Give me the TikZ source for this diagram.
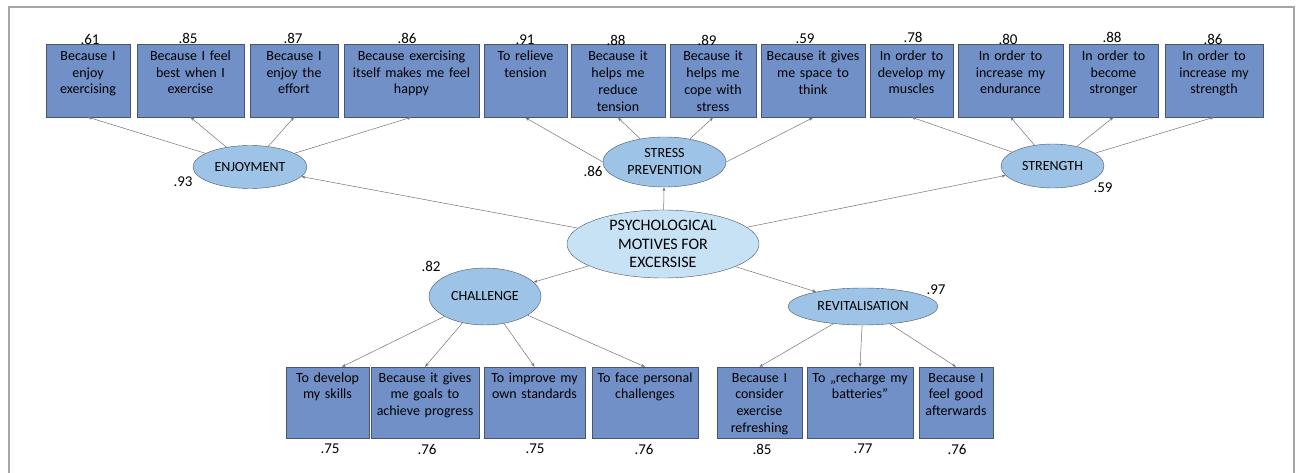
\documentclass[tikz,border=0pt]{standalone}
\usepackage{fontspec}
\setmainfont{Carlito}
\usetikzlibrary{shapes.geometric,arrows.meta}

\definecolor{itemblue}{RGB}{114,144,200}
\definecolor{factorblue}{RGB}{157,195,230}
\definecolor{motiveblue}{RGB}{200,226,245}
\definecolor{outline}{RGB}{75,85,105}
\definecolor{framegray}{RGB}{165,165,165}

\tikzset{
    item/.style={rectangle, draw=outline, fill=itemblue, inner sep=3pt,
        text width=#1pt-6pt, align=center, text height=13.5pt, text depth=53.5pt,
        font=\fontsize{14}{16.7}\selectfont},
    lowitem/.style={item=#1, text height=12pt, text depth=53pt},
    factor/.style={ellipse, draw=outline, fill=factorblue, inner sep=0pt, align=center,
        font=\fontsize{14}{17}\selectfont},
    loading/.style={inner sep=0pt, font=\fontsize{15}{16}\selectfont},
    link/.style={->, draw=black!55, line width=0.5pt},
}

\begin{document}
\begin{tikzpicture}[x=1pt, y=-1pt, >={Stealth[length=4pt,width=3pt]}]
        \useasboundingbox (0,0) rectangle (1302,473);
        \draw[framegray, line width=1.3pt] (9,473) -- (9,7) -- (1294,7) -- (1294,473);

        %%% top row
        \node[item=84]  (b1)  at (88,80.5)    {Because I\\ enjoy\\ exercising};
        \node[item=107] (b2)  at (190.5,80.5) {Because I feel\\ best when I\\ exercise};
        \node[item=88]  (b3)  at (294,80.5)   {Because I\\ enjoy the\\ effort};
        \node[item=135] (b4)  at (411.5,80.5) {Because exercising\\ itself makes me feel\\ happy};
        \node[item=83]  (b5)  at (525.5,81)   {To relieve\\ tension};
        \node[item=94]  (b6)  at (618,81)     {Because it\\ helps me\\ reduce\\ tension};
        \node[item=86]  (b7)  at (713,81)     {Because it\\ helps me\\ cope with\\ stress};
        \node[item=104] (b8)  at (813,81)     {Because it gives\\ me space to\\ think};
        \node[item=83]  (b9)  at (911.5,80.5) {In order to\\ develop my\\ muscles};
        \node[item=105] (b10) at (1010.5,80.5) {In order to\\ increase my\\ endurance};
        \node[item=89]  (b11) at (1113.5,80.5) {In order to\\ become\\ stronger};
        \node[item=98]  (b12) at (1214,80.5)  {In order to\\ increase my\\ strength};

        \node[loading] (l1)  at (90,39)   {.61};
        \node[loading] (l2)  at (188,38)  {.85};
        \node[loading] (l3)  at (293,38)  {.87};
        \node[loading] (l4)  at (407,38)  {.86};
        \node[loading] (l5)  at (525,40)  {.91};
        \node[loading] (l6)  at (616,40)  {.88};
        \node[loading] (l7)  at (707,40)  {.89};
        \node[loading] (l8)  at (805,39)  {.59};
        \node[loading] (l9)  at (913,37)  {.78};
        \node[loading] (l10) at (1008,39) {.80};
        \node[loading] (l11) at (1112,37) {.88};
        \node[loading] (l12) at (1213,39) {.86};

        %%% factors
        \node[factor, minimum width=114pt, minimum height=43pt] (enj) at (250,167) {ENJOYMENT};
        \node[factor, minimum width=123pt, minimum height=50pt] (stress) at (664.5,162) {STRESS\\ PREVENTION};
        \node[factor, minimum width=103pt, minimum height=44pt] (strength) at (1052.5,166) {STRENGTH};
        \node[factor, fill=motiveblue, minimum width=192pt, minimum height=68pt,
            font=\fontsize{16}{18.5}\selectfont] (psych) at (663,244) {PSYCHOLOGICAL\\ MOTIVES FOR\\ EXCERSISE};
        \node[factor, minimum width=112pt, minimum height=57pt] (chal) at (485,296.5) {CHALLENGE};
        \node[factor, minimum width=150pt, minimum height=37pt] (revit) at (863,306.5) {REVITALISATION};

        \node[loading] (f1) at (183,182) {.93};
        \node[loading] (f2) at (593,171) {.86};
        \node[loading] (f3) at (1103,188) {.59};
        \node[loading] (f4) at (431,266) {.82};
        \node[loading] (f5) at (936,290) {.97};

        %%% bottom row
        \node[lowitem=83]  (c1) at (327.5,402.5) {To develop\\ my skills};
        \node[lowitem=108] (c2) at (425,402.5)   {Because it gives\\ me goals to\\ achieve progress};
        \node[lowitem=101] (c3) at (534.5,402.5) {To improve my\\ own standards};
        \node[lowitem=106] (c4) at (645,402.5)   {To face personal\\ challenges};
        \node[lowitem=85]  (r1) at (759.5,402.5) {Because I\\ consider\\ exercise\\ refreshing};
        \node[lowitem=106] (r2) at (860,402.5)   {To „recharge my\\ batteries”};
        \node[lowitem=74]  (r3) at (956,402.5)   {Because I\\ feel good\\ afterwards};

        \node[loading] (m1) at (330,449) {.75};
        \node[loading] (m2) at (427,449) {.76};
        \node[loading] (m3) at (535,449) {.75};
        \node[loading] (m4) at (644,449) {.76};
        \node[loading] (m5) at (762,449) {.85};
        \node[loading] (m6) at (863,449) {.77};
        \node[loading] (m7) at (957,449) {.76};

        %%% arrows
        \draw[link] (psych) -- (enj);
        \draw[link] (psych) -- (stress);
        \draw[link] (psych) -- (strength);
        \draw[link] (psych) -- (chal);
        \draw[link] (psych) -- (revit);

        \draw[link] (enj) -- (b1.south);
        \draw[link] (enj) -- (b2.south);
        \draw[link] (enj) -- (b3.south);
        \draw[link] (enj) -- (b4.south);
        \draw[link] (stress.west) -- (b5.south);
        \draw[link] (stress) -- (b6.south);
        \draw[link] (stress) -- (b7.south);
        \draw[link] (stress.east) -- (b8.south);
        \draw[link] (strength) -- (b9.south);
        \draw[link] (strength) -- (b10.south);
        \draw[link] (strength) -- (b11.south);
        \draw[link] (strength) -- (b12.south);

        \draw[link] (chal) -- (c1.68);
        \draw[link] (chal) -- (c2.north);
        \draw[link] (chal) -- (c3.north);
        \draw[link] (chal) -- (c4.north);
        \draw[link] (revit) -- (r1.north);
        \draw[link] (revit) -- (r2.north);
        \draw[link] (revit) -- (r3.north);
\end{tikzpicture}
\end{document}
